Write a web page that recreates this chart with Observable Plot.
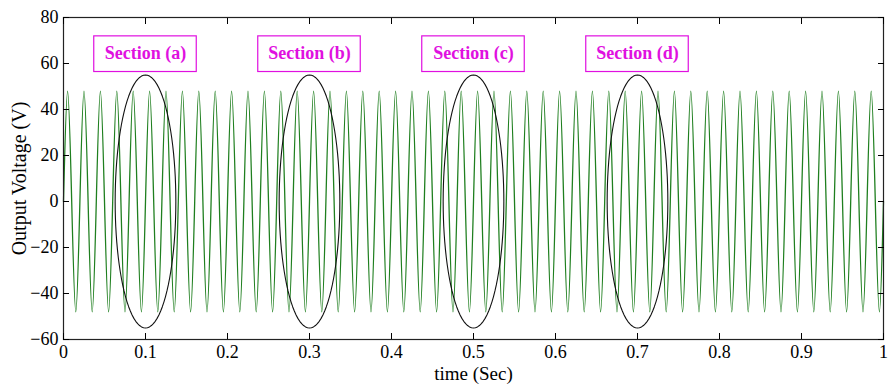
<!DOCTYPE html>
<html><head><meta charset="utf-8">
<script src="https://cdn.jsdelivr.net/npm/d3@7"></script>
<script src="https://cdn.jsdelivr.net/npm/@observablehq/plot@0.6"></script>
<style>body{margin:0;background:#fff}</style>
</head><body><div id="chart"></div>
<script>
// Waveform extrema (peaks/troughs of the 50 Hz output)
const times = [0,0.005,0.015,0.025,0.035,0.045,0.055,0.065,0.075,0.085,0.095,
0.105,0.115,0.125,0.135,0.145,0.155,0.165,0.175,0.185,0.195,
0.205,0.215,0.225,0.235,0.245,0.255,0.265,0.275,0.285,0.295,
0.305,0.315,0.325,0.335,0.345,0.355,0.365,0.375,0.385,0.395,
0.405,0.415,0.425,0.435,0.445,0.455,0.465,0.475,0.485,0.495,
0.505,0.515,0.525,0.535,0.545,0.555,0.565,0.575,0.585,0.595,
0.605,0.615,0.625,0.635,0.645,0.655,0.665,0.675,0.685,0.695,
0.705,0.715,0.725,0.735,0.745,0.755,0.765,0.775,0.785,0.795,
0.805,0.815,0.825,0.835,0.845,0.855,0.865,0.875,0.885,0.895,
0.905,0.915,0.925,0.935,0.945,0.955,0.965,0.975,0.985,0.995,1];
const volts = [0,48,-48,48,-48,48,-48,48,-48,48,-48,
48,-48,48,-48,48,-48,48,-48,48,-48,
48,-48,48,-48,48,-48,48,-48,48,-48,
48,-48,48,-48,48,-48,48,-48,48,-48,
48,-48,48,-48,48,-48,48,-48,48,-48,
48,-48,48,-48,48,-48,48,-48,48,-48,
48,-48,48,-48,48,-48,48,-48,48,-48,
48,-48,48,-48,48,-48,48,-48,48,-48,
48,-48,48,-48,48,-48,48,-48,48,-48,
48,-48,48,-48,48,-48,48,-48,48,-48,0];
const sectionLabels = ["Section (a)","Section (b)","Section (c)","Section (d)"];
const sectionCenters = [0.1,0.3,0.5,0.7];
const xTicks = [0,0.1,0.2,0.3,0.4,0.5,0.6,0.7,0.8,0.9,1];
const yTicks = [-60,-40,-20,0,20,40,60,80];

const wave = times.map((t,i)=>({t, v: volts[i]}));
const sections = sectionLabels.map((s,i)=>({label:s, c:sectionCenters[i]}));
// ellipse outlines around each section
const ellipsePts = [];
sections.forEach(s=>{
  for(let k=0;k<=96;k++){
    const a = 2*Math.PI*k/96;
    ellipsePts.push({z:s.label, t:s.c+0.037*Math.cos(a), v:55*Math.sin(a)});
  }
});
const magenta = "#e010e0";
const green = "#1f7f1f";

const chart = Plot.plot({
  width: 889, height: 390,
  marginLeft: 63, marginRight: 6, marginTop: 17, marginBottom: 51,
  style: {fontFamily: "'Liberation Serif', 'Times New Roman', serif", fontSize: "18px", color: "#000", background: "#fff"},
  x: {domain: [0,1]},
  y: {domain: [-60,80]},
  marks: [
    Plot.line(wave, {x:"t", y:"v", curve:"monotone-x", stroke: green, strokeWidth: 1.3}),
    Plot.line(ellipsePts, {x:"t", y:"v", z:"z", stroke:"#111", strokeWidth:1.1}),
    Plot.rect(sections, {x1: d=>d.c-0.0625, x2: d=>d.c+0.0625, y1: 56.3, y2: 71.8, fill:"#fff", stroke: magenta, strokeWidth:1.2}),
    Plot.text(sections, {x:"c", y:64.3, text:"label", fill: magenta, fontWeight:"bold", fontSize:18}),
    Plot.frame({stroke:"#222", strokeWidth:1.2}),
    Plot.axisX({ticks: xTicks, tickSize: 0, tickPadding: 6, tickFormat: d=>String(d), fontSize: 18, label: null}),
    Plot.axisX({ticks: [], label: "time (Sec)", labelAnchor:"center", labelArrow:"none", labelOffset: 40, fontSize: 19}),
    Plot.axisX({ticks: xTicks, anchor:"bottom", tickSize: -6, tickFormat: ()=>"", label: null}),
    Plot.axisX({ticks: xTicks, anchor:"top", tickSize: -6, tickFormat: ()=>"", label: null}),
    Plot.axisY({ticks: yTicks, tickSize: 0, tickPadding: 5, fontSize: 18, label: null}),
    Plot.axisY({ticks: [], label: "Output Voltage (V)", labelAnchor:"center", labelArrow:"none", labelOffset: 52, fontSize: 20}),
    Plot.axisY({ticks: yTicks, anchor:"left", tickSize: -6, tickFormat: ()=>"", label: null}),
    Plot.axisY({ticks: yTicks, anchor:"right", tickSize: -6, tickFormat: ()=>"", label: null})
  ]
});
document.getElementById("chart").appendChild(chart);
</script>
</body></html>
